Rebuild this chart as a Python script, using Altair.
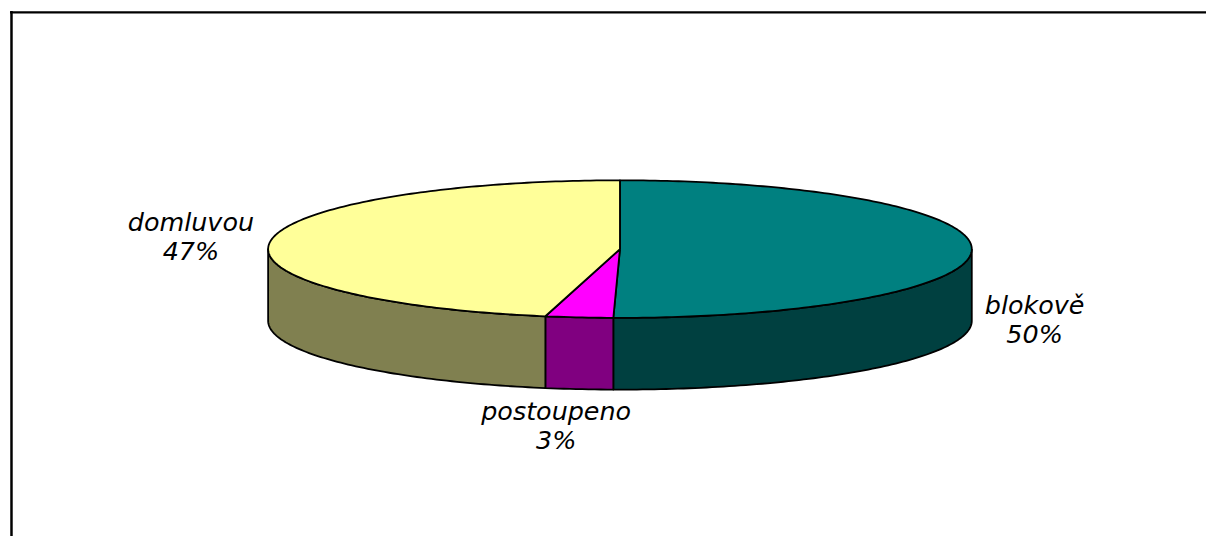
import math
import altair as alt
import pandas as pd

categories = ["blokově", "postoupeno", "domluvou"]
shares = [50.3, 3.1, 46.6]
percent_labels = ["50%", "3%", "47%"]
top_colors = ["#008080", "#FF00FF", "#FFFF99"]
side_colors = ["#004040", "#800080", "#808050"]

# page layout, in pixels
PLOT_W, PLOT_H = 1200, 528
CX, CY, RX, RY, DEPTH = 620.0, 247.0, 353.0, 69.0, 72.0
LABEL_FIRST_LINE = {"blokově": (1036, 304.5), "postoupeno": (556, 410.5), "domluvou": (189.5, 220.5)}
FONT = "DejaVu Sans"
FONT_SIZE = 25.5


def pt(t):
    """Angle clockwise from twelve o'clock to a point on the unit ellipse."""
    return math.sin(t), math.cos(t)


rows = []
start = 0.0
total = sum(shares)
for cat, val, top, side in zip(categories, shares, top_colors, side_colors):
    end = start + val / total * 2 * math.pi
    n = max(4, int((end - start) * 60))
    arc = [start + (end - start) * i / n for i in range(n + 1)]

    # visible front wall: the part of the arc below the horizontal diameter
    vis = [t for t in arc if math.pi / 2 <= t <= 3 * math.pi / 2]
    if start < math.pi / 2 < end:
        vis = [math.pi / 2] + vis
    if start < 3 * math.pi / 2 < end:
        vis = vis + [3 * math.pi / 2]
    if vis:
        seq = 0
        depth_u = DEPTH / RY
        for t in vis:
            x, y = pt(t)
            rows.append(dict(shape=f"wall {cat}", part=0, fill=side, x=x, y=y, o=seq))
            seq += 1
        for t in reversed(vis):
            x, y = pt(t)
            rows.append(dict(shape=f"wall {cat}", part=0, fill=side, x=x, y=y - depth_u, o=seq))
            seq += 1
        x, y = pt(vis[0])
        rows.append(dict(shape=f"wall {cat}", part=0, fill=side, x=x, y=y, o=seq))

    # top wedge
    seq = 0
    rows.append(dict(shape=f"top {cat}", part=1, fill=top, x=0.0, y=0.0, o=seq))
    for t in arc:
        seq += 1
        x, y = pt(t)
        rows.append(dict(shape=f"top {cat}", part=1, fill=top, x=x, y=y, o=seq))
    seq += 1
    rows.append(dict(shape=f"top {cat}", part=1, fill=top, x=0.0, y=0.0, o=seq))
    start = end

df = pd.DataFrame(rows)

x_scale = alt.Scale(domain=[(8 - CX) / RX, (8 + PLOT_W - CX) / RX], nice=False, zero=False)
y_scale = alt.Scale(domain=[(CY - 8 - PLOT_H) / RY, (CY - 8) / RY], nice=False, zero=False)


def faces(part):
    return (
        alt.Chart(df[df.part == part])
        .mark_line(stroke="#000000", strokeWidth=1.8, strokeJoin="round")
        .encode(
            x=alt.X("x:Q", scale=x_scale, axis=None),
            y=alt.Y("y:Q", scale=y_scale, axis=None),
            detail="shape:N",
            fill=alt.Fill("fill:N", scale=None),
            order="o:Q",
        )
    )


frame_df = pd.DataFrame({"a": [0]})
frame_top = alt.Chart(frame_df).mark_rule(color="#000000", strokeWidth=2.5).encode(
    x=alt.value(0), x2=alt.value(PLOT_W), y=alt.value(1.5)
)
frame_left = alt.Chart(frame_df).mark_rule(color="#000000", strokeWidth=2.5).encode(
    x=alt.value(1.5), y=alt.value(0), y2=alt.value(PLOT_H)
)

layers = [frame_top, frame_left, faces(0), faces(1)]
for cat, pct in zip(categories, percent_labels):
    lx, ly = LABEL_FIRST_LINE[cat]
    layers.append(
        alt.Chart(pd.DataFrame({"t": [f"{cat}\n{pct}"]}))
        .mark_text(
            font=FONT, fontSize=FONT_SIZE, fontStyle="italic", color="#000000",
            align="center", baseline="middle", lineBreak="\n", lineHeight=29,
        )
        .encode(text="t:N", x=alt.value(lx - 8), y=alt.value(ly - 8))
    )

chart = (
    alt.layer(*layers)
    .properties(width=PLOT_W, height=PLOT_H, padding=0, background="#FFFFFF")
    .configure_view(stroke=None)
)

chart.save("out.html", embed_options={"renderer": "svg", "actions": False})
